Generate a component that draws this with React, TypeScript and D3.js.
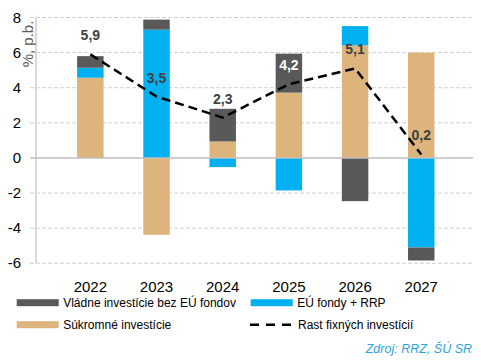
import React, { useEffect, useRef } from "react";
import * as d3 from "d3";

const width = 481;
const height = 361;

const years = ["2022", "2023", "2024", "2025", "2026", "2027"];
const privateInv = [4.57, -4.38, 0.94, 3.72, 6.41, 6.0];
const euFunds = [0.57, 7.31, -0.52, -1.85, 1.1, -5.1];
const govInv = [0.66, 0.57, 1.86, 2.22, -2.46, -0.74];
const growth = [5.9, 3.5, 2.3, 4.2, 5.1, 0.2];
const growthLabels = ["5,9", "3,5", "2,3", "4,2", "5,1", "0,2"];
const yTicks = [-6, -4, -2, 0, 2, 4, 6, 8];

const keys = ["private", "eu", "gov"];
const colors: Record<string, string> = {
  private: "#dcb47c",
  eu: "#00b0f0",
  gov: "#595959",
};

const font = "'Liberation Sans', Arial, sans-serif";

const App = () => {
  const ref = useRef<SVGSVGElement>(null);

  useEffect(() => {
    const svg = d3.select(ref.current);
    svg.selectAll("*").remove();

    const rows = years.map((y, i) => ({
      year: y,
      private: privateInv[i],
      eu: euFunds[i],
      gov: govInv[i],
    }));

    const x = d3.scaleBand().domain(years).range([37.4, 474.2]).padding(0.6);
    const y = d3.scaleLinear().domain([-6, 8]).range([263.3, 17.5]);

    // grid
    svg
      .append("g")
      .selectAll("line")
      .data(yTicks.filter((t) => t !== 0))
      .join("line")
      .attr("x1", 30)
      .attr("x2", 473)
      .attr("y1", (d) => y(d))
      .attr("y2", (d) => y(d))
      .attr("stroke", "#d0d0d0")
      .attr("stroke-width", 1)
      .attr("stroke-dasharray", "4,2");

    // y axis line
    svg
      .append("line")
      .attr("x1", 36)
      .attr("x2", 36)
      .attr("y1", y(8))
      .attr("y2", y(-6))
      .attr("stroke", "#d9d9d9")
      .attr("stroke-width", 2);

    const stack = d3
      .stack<any>()
      .keys(keys)
      .offset(d3.stackOffsetDiverging);
    const series = stack(rows);

    svg
      .append("g")
      .selectAll("g")
      .data(series)
      .join("g")
      .attr("fill", (d) => colors[d.key])
      .selectAll("rect")
      .data((d) => d)
      .join("rect")
      .attr("x", (d) => x(d.data.year)!)
      .attr("width", x.bandwidth())
      .attr("y", (d) => y(Math.max(d[0], d[1])))
      .attr("height", (d) => Math.abs(y(d[0]) - y(d[1])));

    // zero line
    svg
      .append("line")
      .attr("x1", 30)
      .attr("x2", 473)
      .attr("y1", y(0))
      .attr("y2", y(0))
      .attr("stroke", "#bfbfbf")
      .attr("stroke-width", 1.5);

    // y tick labels
    svg
      .append("g")
      .selectAll("text")
      .data(yTicks)
      .join("text")
      .attr("x", 21)
      .attr("y", (d) => y(d) + 5)
      .attr("text-anchor", "end")
      .attr("font-family", font)
      .attr("font-size", 15)
      .attr("fill", "#000")
      .text((d) => String(d));

    svg
      .append("text")
      .attr("transform", "translate(33,44) rotate(-90)")
      .attr("text-anchor", "middle")
      .attr("font-family", font)
      .attr("font-size", 15)
      .attr("fill", "#595959")
      .text("%, p.b.");

    // x labels
    svg
      .append("g")
      .selectAll("text")
      .data(years)
      .join("text")
      .attr("x", (d) => x(d)! + x.bandwidth() / 2)
      .attr("y", 292)
      .attr("text-anchor", "middle")
      .attr("font-family", font)
      .attr("font-size", 15)
      .attr("fill", "#000")
      .text((d) => d);

    // growth line
    const growthLine = d3
      .line<number>()
      .x((_, i) => x(years[i])! + x.bandwidth() / 2)
      .y((d) => y(d));

    svg
      .append("path")
      .datum(growth)
      .attr("fill", "none")
      .attr("stroke", "#000")
      .attr("stroke-width", 2.5)
      .attr("stroke-dasharray", "9,5")
      .attr("d", growthLine);

    svg
      .append("g")
      .selectAll("text")
      .data(growth)
      .join("text")
      .attr("x", (_, i) => x(years[i])! + x.bandwidth() / 2)
      .attr("y", (d) => y(d) - 14)
      .attr("text-anchor", "middle")
      .attr("font-family", font)
      .attr("font-size", 14)
      .attr("font-weight", "bold")
      .attr("fill", (_, i) => (i === 3 ? "#fff" : "#404040"))
      .text((_, i) => growthLabels[i]);

    // legend
    const legend = [
      { label: "Vládne investície bez EÚ fondov", key: "gov", x: 16.7, y: 302.7 },
      { label: "EÚ fondy + RRP", key: "eu", x: 250.7, y: 302.7 },
      { label: "Súkromné investície", key: "private", x: 16.7, y: 324.7 },
    ];
    const lg = svg.append("g");
    legend.forEach((l) => {
      lg.append("rect")
        .attr("x", l.x)
        .attr("y", l.y - 3.5)
        .attr("width", 42)
        .attr("height", 7)
        .attr("fill", colors[l.key]);
      lg.append("text")
        .attr("x", l.x + 46.5)
        .attr("y", l.y + 4)
        .attr("font-family", font)
        .attr("font-size", 12)
        .attr("fill", "#000")
        .text(l.label);
    });
    lg.append("line")
      .attr("x1", 250)
      .attr("x2", 293)
      .attr("y1", 324.7)
      .attr("y2", 324.7)
      .attr("stroke", "#000")
      .attr("stroke-width", 2.5)
      .attr("stroke-dasharray", "9,7");
    lg.append("text")
      .attr("x", 298)
      .attr("y", 328.7)
      .attr("font-family", font)
      .attr("font-size", 12)
      .attr("fill", "#000")
      .text("Rast fixných investícií");

    svg
      .append("text")
      .attr("x", 472)
      .attr("y", 353)
      .attr("text-anchor", "end")
      .attr("font-family", font)
      .attr("font-size", 12.5)
      .attr("font-style", "italic")
      .attr("fill", "#2ea3e0")
      .text("Zdroj: RRZ, ŠÚ SR");
  }, []);

  return (
    <svg
      ref={ref}
      width={width}
      height={height}
      style={{ position: "absolute", left: 0, top: 0, background: "#fff" }}
    />
  );
};

export default App;
